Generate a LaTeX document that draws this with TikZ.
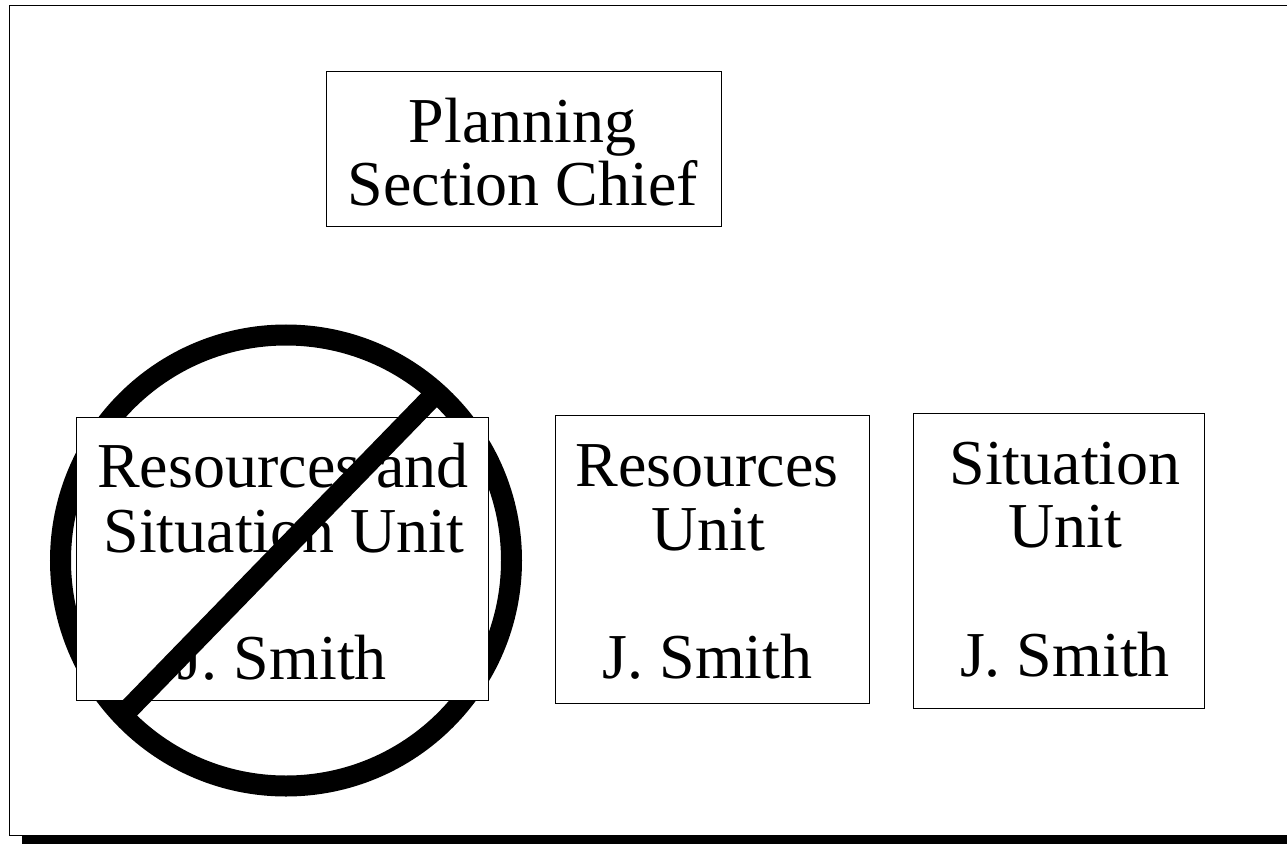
\documentclass[tikz,border=0pt]{standalone}
\usepackage{fontspec}
\setmainfont{Liberation Serif}
\tikzset{
  x=1bp,y=-1bp,
  boxnode/.style={draw=black,fill=white,line width=1bp,inner sep=0pt,outer sep=0pt,anchor=north west},
  txt/.style={anchor=base,inner sep=0pt,outer sep=0pt,font=\fontsize{64bp}{64bp}\selectfont},
  heavy/.style={line width=21bp,draw=black}
}
\begin{document}
\begin{tikzpicture}
\useasboundingbox (0,0) rectangle (1287,844);
% page shadow and frame
\fill[black] (22,836) rectangle (1287,844);
\draw[line width=1bp] (1287,5.5) -- (9.5,5.5) -- (9.5,835.5) -- (1287,835.5);
% prohibition circle behind the box
\coordinate (cc) at (286,560.5);
\draw[heavy] (cc) circle [radius=225.5bp];
% boxes
\node[boxnode,minimum width=395bp,minimum height=155bp] (chief) at (326,71) {};
\node[boxnode,minimum width=412bp,minimum height=282.5bp] (rs) at (76,417.5) {};
\node[boxnode,minimum width=314bp,minimum height=288bp] (res) at (555,415) {};
\node[boxnode,minimum width=291bp,minimum height=295bp] (sit) at (913,413) {};
% texts
\node[txt] (t1) at (522.5,142) {Planning};
\node[txt] (t2) at (523,205) {Section Chief};
\node[txt] (t3) at (283,487) {Resources and};
\node[txt] (t4) at (284,552) {Situation Unit};
\node[txt] (t5) at (282,679) {J. Smith};
\node[txt] (t6) at (707,486) {Resources};
\node[txt] (t7) at (708,550) {Unit};
\node[txt] (t8) at (707.5,678) {J. Smith};
\node[txt] (t9) at (1065,484) {Situation};
\node[txt] (t10) at (1065,547) {Unit};
\node[txt] (t11) at (1065,676) {J. Smith};
% slash
\coordinate (sa) at (436,393);
\coordinate (sb) at (123,715);
\draw[heavy] (sa) -- (sb);
\end{tikzpicture}
\end{document}
